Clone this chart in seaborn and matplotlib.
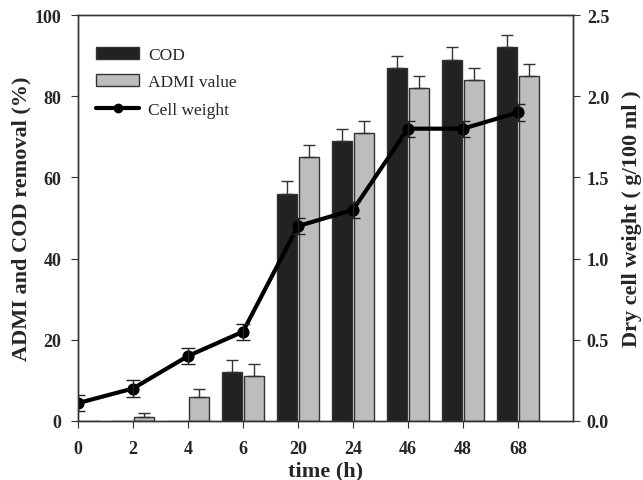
import numpy as np
import pandas as pd
import seaborn as sns
import matplotlib.pyplot as plt
from matplotlib.patches import Patch
from matplotlib.lines import Line2D

# Data
times = ["0", "2", "4", "6", "20", "24", "46", "48", "68"]
cod = [0, 0, 0, 12, 56, 69, 87, 89, 92]
cod_err = [0, 0, 0, 3, 3, 3, 3, 3, 3]
admi = [0, 1, 6, 11, 65, 71, 82, 84, 85]
admi_err = [0, 1, 2, 3, 3, 3, 3, 3, 3]
cell = [0.11, 0.2, 0.4, 0.55, 1.2, 1.3, 1.8, 1.8, 1.9]
cell_err = [0.05, 0.05, 0.05, 0.05, 0.05, 0.05, 0.05, 0.05, 0.05]

df = pd.DataFrame({
    "time": times * 2,
    "removal": cod + admi,
    "kind": ["COD"] * len(times) + ["ADMI value"] * len(times),
})

sns.set_style("ticks")
plt.rcParams["font.family"] = ["Liberation Serif", "DejaVu Serif"]

fig = plt.figure(figsize=(6.43, 4.81), dpi=100)
ax = fig.add_axes([0.1213, 0.1227, 0.7698, 0.844])

colors = {"COD": "#222222", "ADMI value": "#bdbdbd"}
sns.barplot(data=df, x="time", y="removal", hue="kind", order=times,
            hue_order=["COD", "ADMI value"], palette=colors, width=0.8,
            gap=0.12, errorbar=None, edgecolor="#333333", linewidth=1,
            legend=False, ax=ax)

# one-sided error bars on top of the bars
for cont, errs in zip(ax.containers, [cod_err, admi_err]):
    for bar, e in zip(cont, errs):
        if e == 0:
            continue
        xc = bar.get_x() + bar.get_width() / 2
        ax.errorbar(xc, bar.get_height(), yerr=[[0], [e]], fmt="none",
                    ecolor="#333333", elinewidth=1, capsize=4, capthick=1)

ax.set_xlim(0, 9)
ax.set_ylim(0, 100)
ax.set_yticks([0, 20, 40, 60, 80, 100])
ax.set_xlabel("time (h)", fontsize=16, fontweight="bold", labelpad=2)
ax.set_ylabel("ADMI and COD removal (%)", fontsize=16, fontweight="bold",
              labelpad=2)
for lab in ax.get_xticklabels() + ax.get_yticklabels():
    lab.set_fontweight("bold")
ax.tick_params(labelsize=13, direction="out", length=5, color="#333333")
ax.tick_params(axis="x", pad=9)
ax.tick_params(axis="y", pad=7)

ax2 = ax.twinx()
idx = np.arange(len(times))
sns.lineplot(x=idx, y=cell, color="black", linewidth=3, marker="o",
             markersize=8, markeredgecolor="black", ax=ax2)
ax2.errorbar(idx, cell, yerr=cell_err, fmt="none", ecolor="#222222",
             elinewidth=1, capsize=5, capthick=1)
ax2.set_ylim(0, 2.5)
ax2.set_yticks([0.0, 0.5, 1.0, 1.5, 2.0, 2.5])
ax2.set_yticklabels(["0.0", "0.5", "1.0", "1.5", "2.0", "2.5"])
ax2.set_ylabel("Dry cell weight ( g/100 ml )", fontsize=16, fontweight="bold",
               labelpad=9)
for lab in ax2.get_yticklabels():
    lab.set_fontweight("bold")
ax2.tick_params(labelsize=13, direction="out", length=5, pad=5, color="#333333")

for a in (ax, ax2):
    for s in a.spines.values():
        s.set_color("#333333")
        s.set_linewidth(1)

handles = [
    Patch(facecolor=colors["COD"], edgecolor="#333333", label="COD"),
    Patch(facecolor=colors["ADMI value"], edgecolor="#333333", label="ADMI value"),
    Line2D([0], [0], color="black", linewidth=3, marker="o", markersize=6,
           label="Cell weight"),
]
ax.legend(handles=handles, loc="upper left", bbox_to_anchor=(0.005, 0.96),
          frameon=False, fontsize=12.5, handlelength=2.5, handleheight=0.7,
          labelspacing=0.65, handletextpad=0.5)

fig.savefig("out.png", dpi=100)
